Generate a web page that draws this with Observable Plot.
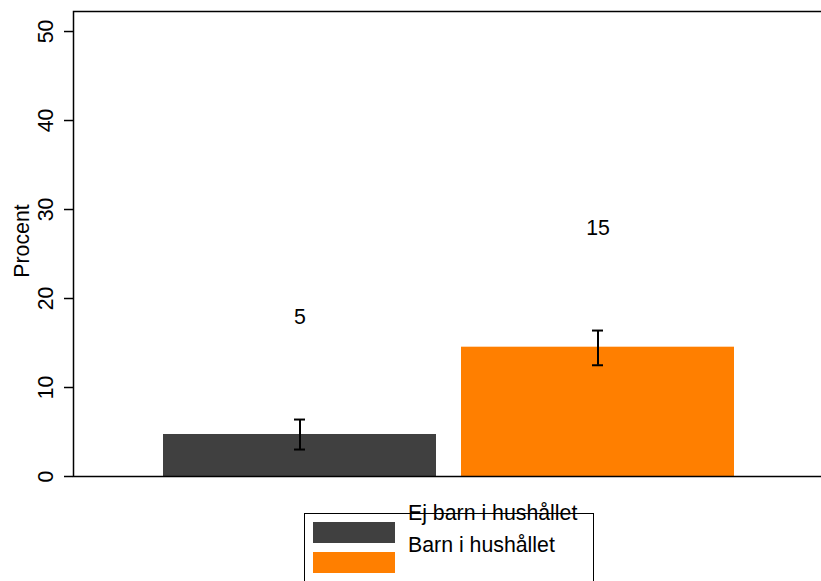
<!DOCTYPE html>
<html>
<head>
<meta charset="utf-8">
<script src="https://cdn.jsdelivr.net/npm/d3@7"></script>
<script src="https://cdn.jsdelivr.net/npm/@observablehq/plot@0.6"></script>
<style>
  html, body { margin: 0; padding: 0; background: white; overflow: hidden; width: 821px; height: 581px; }
  #wrap { position: relative; width: 821px; height: 581px; overflow: hidden; }
  #legend { position: absolute; left: 0; top: 0; }
</style>
</head>
<body>
<div id="wrap"></div>
<script>
const categories = ["Ej barn i hushållet", "Barn i hushållet"];
const values = [4.72, 14.53];
const lower = [3.03, 12.5];
const upper = [6.4, 16.4];
const valueLabels = ["5", "15"];
const colors = ["#404040", "#ff7f00"];
const yTicks = [0, 10, 20, 30, 40, 50];
const yLabel = "Procent";

const data = categories.map((c, i) => ({cat: c, value: values[i], lo: lower[i], hi: upper[i], label: valueLabels[i]}));
const font = "'Liberation Sans', Arial, Helvetica, sans-serif";
const fs = 21.3;

const chart = Plot.plot({
  width: 824,
  height: 500,
  marginLeft: 73,
  marginRight: 0,
  marginTop: 11,
  marginBottom: 24,
  style: {fontFamily: font, fontSize: fs + "px", maxWidth: "none", overflow: "hidden", background: "white", color: "black"},
  x: {domain: categories, paddingInner: 0.0839, paddingOuter: 0.302, align: 0.5, axis: null},
  y: {domain: [0, 52.25], axis: null},
  color: {domain: categories, range: colors},
  marks: [
    Plot.barY(data, {x: "cat", y: "value", fill: "cat"}),
    Plot.ruleX(data, {x: "cat", y1: "lo", y2: "hi", stroke: "black", strokeWidth: 2}),
    Plot.tickY(data, {x: "cat", y: "lo", insetLeft: 131, insetRight: 131, stroke: "black", strokeWidth: 2}),
    Plot.tickY(data, {x: "cat", y: "hi", insetLeft: 131, insetRight: 131, stroke: "black", strokeWidth: 2}),
    Plot.text(data, {x: "cat", y: "hi", text: "label", dy: -102, lineAnchor: "middle", fontSize: fs, fill: "black"}),
    Plot.axisY({ticks: yTicks, tickSize: 9, tickFormat: () => "", label: null, strokeWidth: 1.5, stroke: "black"}),
    Plot.text(yTicks, {y: d => d, text: d => String(d), frameAnchor: "left", dx: -20.5, rotate: -90, textAnchor: "middle", lineAnchor: "bottom", fontSize: fs, fill: "black"}),
    Plot.text([yLabel], {frameAnchor: "left", rotate: -90, dx: -44.5, dy: -3, textAnchor: "middle", lineAnchor: "bottom", fontSize: fs, fill: "black"}),
    Plot.frame({stroke: "black", strokeWidth: 1.5})
  ]
});
document.getElementById("wrap").appendChild(chart);

// Legend (drawn below the chart)
const legend = d3.select("#wrap").append("svg")
  .attr("id", "legend")
  .attr("width", 821).attr("height", 581)
  .style("pointer-events", "none");
legend.append("rect")
  .attr("x", 304.5).attr("y", 513.5).attr("width", 289).attr("height", 100)
  .attr("fill", "white").attr("stroke", "black").attr("stroke-width", 1);
categories.forEach((c, i) => {
  legend.append("rect")
    .attr("x", 313).attr("y", 522 + i * 30).attr("width", 82).attr("height", 21)
    .attr("fill", colors[i]);
  legend.append("text")
    .attr("x", 408).attr("y", 519.5 + i * 32.5)
    .attr("font-family", font).attr("font-size", fs).attr("fill", "black")
    .text(c);
});
</script>
</body>
</html>
